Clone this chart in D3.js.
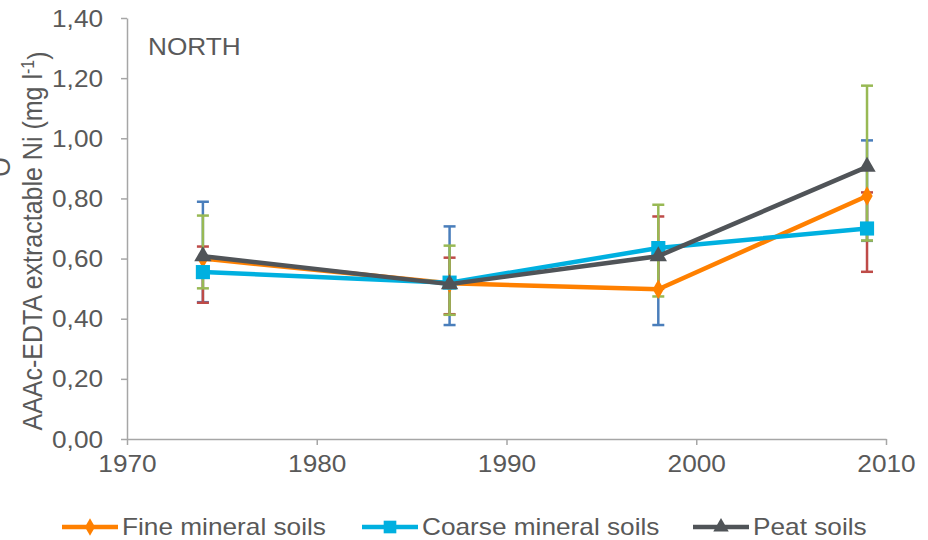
<!DOCTYPE html>
<html>
<head>
<meta charset="utf-8" />
<title>NORTH Ni</title>
<style>
    html, body { margin: 0; padding: 0; background: #fff; }
    svg { display: block; font-family: 'Liberation Sans', Arial, sans-serif; }
</style>
</head>
<body>
<div class="canvas"></div>
<script src="https://d3js.org/d3.v7.min.js"></script>
<script>
    // data
    var years = [1974, 1987, 1998, 2009];
    var fineVals   = [0.600, 0.518, 0.498, 0.808];
    var coarseVals = [0.555, 0.520, 0.635, 0.700];
    var peatVals   = [0.608, 0.515, 0.608, 0.905];

    // error bars (low / high), coloured separately in the original
    var blueLow  = [0.455, 0.379, 0.379, 0.659];
    var blueHigh = [0.789, 0.707, 0.620, 0.993];
    var redLow   = [0.453, 0.415, 0.500, 0.556];
    var redHigh  = [0.640, 0.603, 0.740, 0.820];
    var greenLow  = [0.501, 0.413, 0.474, 0.660];
    var greenHigh = [0.743, 0.643, 0.779, 1.175];

    var yTicks = [0, 0.2, 0.4, 0.6, 0.8, 1.0, 1.2, 1.4];
    var xTicks = [1970, 1980, 1990, 2000, 2010];
    var seriesNames = ["Fine mineral soils", "Coarse mineral soils", "Peat soils"];

    var width = 928, height = 540;
    var sx = 1.14; // the picture is a bit wide, so is its text
    var textColor = "#595959", axisColor = "#a6a6a6";

    var x = d3.scaleLinear().domain([1970, 2010]).range([127, 886]);
    var y = d3.scaleLinear().domain([0, 1.4]).range([439, 18]);

    var svg = d3.select(".canvas").append("svg")
        .attr("width", width)
        .attr("height", height);

    var comma = function(d) { return d3.format(".2f")(d).replace(".", ","); };

    // y axis
    var gy = svg.append("g")
        .attr("transform", "translate(" + x(1970) + ",0)")
        .call(d3.axisLeft(y).tickValues(yTicks).tickFormat(comma).tickSize(6).tickSizeOuter(0));
    // x axis
    var gx = svg.append("g")
        .attr("transform", "translate(0," + y(0) + ")")
        .call(d3.axisBottom(x).tickValues(xTicks).tickFormat(d3.format("d")).tickSize(6).tickSizeOuter(0));

    [gy, gx].forEach(function(g) {
        g.select(".domain").attr("stroke", axisColor).attr("stroke-width", 1.5);
        g.selectAll(".tick line").attr("stroke", axisColor).attr("stroke-width", 1.5);
        g.selectAll(".tick text")
            .attr("fill", textColor)
            .style("font-size", "23px")
            .style("font-family", "'Liberation Sans', Arial, sans-serif");
    });
    gy.selectAll(".tick text").attr("x", -21).attr("dy", "0.35em").attr("transform", "scale(" + sx + ",1)");
    gx.selectAll(".tick text").attr("y", 17).attr("dy", "0.71em").attr("transform", "scale(" + sx + ",1)");

    // texts
    function label(txt, px, py, size, rot, anchor) {
        var t = svg.append("text")
            .attr("transform", "translate(" + px + "," + py + ") scale(" + sx + ",1)" + (rot ? " rotate(" + rot + ")" : ""))
            .attr("text-anchor", anchor || "start")
            .attr("fill", textColor)
            .style("font-size", size + "px");
        return t.text(txt);
    }

    label("NORTH", 148, 55, 23, 0, "start");

    var title = label("", 42, 241, 25, -90, "middle");
    title.append("tspan").text("AAAc-EDTA extractable Ni (mg l");
    title.append("tspan").attr("dy", "-0.45em").style("font-size", "16px").text("-1");
    title.append("tspan").attr("dy", "0.45em").text(")");

    label("O", 10, 167, 25, -90, "middle");

    // error bars
    function errBars(lo, hi, col) {
        var g = svg.append("g").attr("stroke", col).attr("stroke-width", 2.5);
        years.forEach(function(yr, i) {
            g.append("line").attr("x1", x(yr)).attr("x2", x(yr)).attr("y1", y(lo[i])).attr("y2", y(hi[i]));
            g.append("line").attr("x1", x(yr) - 6).attr("x2", x(yr) + 6).attr("y1", y(lo[i])).attr("y2", y(lo[i]));
            g.append("line").attr("x1", x(yr) - 6).attr("x2", x(yr) + 6).attr("y1", y(hi[i])).attr("y2", y(hi[i]));
        });
    }
    errBars(blueLow, blueHigh, "#4a7ebb");
    errBars(redLow, redHigh, "#be4b48");
    errBars(greenLow, greenHigh, "#98b954");

    // series
    var series = [
        { name: seriesNames[0], vals: fineVals, color: "#ff8000", sym: d3.symbolDiamond, size: 110 },
        { name: seriesNames[1], vals: coarseVals, color: "#00b0e0", sym: d3.symbolSquare, size: 200 },
        { name: seriesNames[2], vals: peatVals, color: "#505458", sym: d3.symbolTriangle, size: 130 }
    ];

    var line = d3.line()
        .x(function(d, i) { return x(years[i]); })
        .y(function(d) { return y(d); });

    series.forEach(function(s) {
        svg.append("path")
            .attr("d", line(s.vals))
            .attr("fill", "none")
            .attr("stroke", s.color)
            .attr("stroke-width", 4.5)
            .attr("stroke-linejoin", "round");
        svg.selectAll(null).data(s.vals).enter().append("path")
            .attr("d", d3.symbol().type(s.sym).size(s.size))
            .attr("transform", function(d, i) { return "translate(" + x(years[i]) + "," + y(d) + ")"; })
            .attr("fill", s.color);
    });

    // legend
    var legX = [62, 362, 693];
    series.forEach(function(s, i) {
        var lx = legX[i], ly = 527;
        svg.append("line")
            .attr("x1", lx).attr("x2", lx + 56).attr("y1", ly).attr("y2", ly)
            .attr("stroke", s.color).attr("stroke-width", 4.5);
        svg.append("path")
            .attr("d", d3.symbol().type(s.sym).size(s.size * 0.8))
            .attr("transform", "translate(" + (lx + 28) + "," + ly + ")")
            .attr("fill", s.color);
        label(s.name, lx + 60, ly + 8, 23, 0, "start");
    });
</script>
</body>
</html>
